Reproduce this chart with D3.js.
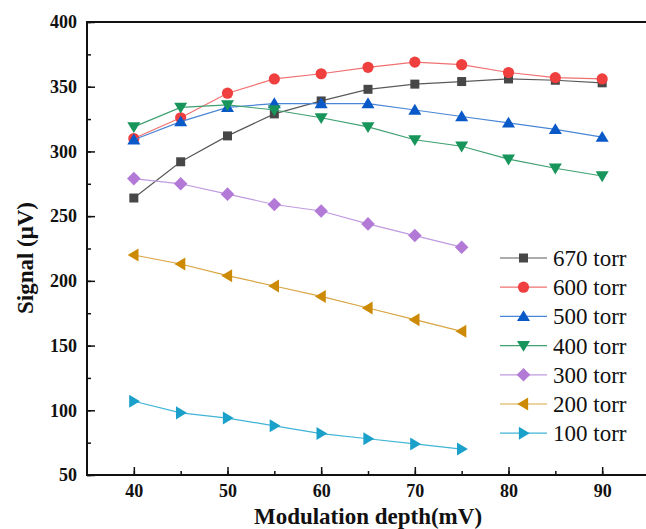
<!DOCTYPE html>
<html>
<head>
<meta charset="utf-8">
<script src="https://cdn.jsdelivr.net/npm/d3@7"></script>
<style>
  html, body { margin: 0; padding: 0; background: #fff; }
  svg { display: block; }
  text { font-family: "Liberation Serif", "Times New Roman", serif; fill: #111; }
</style>
</head>
<body>
<svg id="chart" width="646" height="529"></svg>
<script>
// ---- data ----
const depths = [40, 45, 50, 55, 60, 65, 70, 75, 80, 85, 90];
const seriesNames = ["670 torr", "600 torr", "500 torr", "400 torr", "300 torr", "200 torr", "100 torr"];
const s670 = [264, 292, 312, 329, 339, 348, 352, 354, 356, 355, 353];
const s600 = [310, 326, 345, 356, 360, 365, 369, 367, 361, 357, 356];
const s500 = [309, 323, 334, 337, 337, 337, 332, 327, 322, 317, 311];
const s400 = [319, 334, 336, 332, 326, 319, 309, 304, 294, 287, 281];
const s300 = [279, 275, 267, 259, 254, 244, 235, 226];
const s200 = [220, 213, 204, 196, 188, 179, 170, 161];
const s100 = [107, 98, 94, 88, 82, 78, 74, 70];
const xTicks = [40, 50, 60, 70, 80, 90];
const yTicks = [50, 100, 150, 200, 250, 300, 350, 400];
const xLabel = "Modulation depth(mV)";
const yLabel = "Signal (μV)";

// ---- styles ----
const colors = ["#474747", "#ef3f3f", "#0a59c9", "#17955a", "#b27ad6", "#cc8a06", "#1ba1c9"];
const lineColors = ["#5a5a5a", "#f07070", "#4a86d6", "#3fa070", "#c09ae0", "#d8a540", "#40b4d6"];
const symbols = ["square", "circle", "triUp", "triDown", "diamond", "triLeft", "triRight"];
const allValues = [s670, s600, s500, s400, s300, s200, s100];

const svg = d3.select("#chart");
const m = { left: 87, top: 22, right: 649, bottom: 475 };

const x = d3.scaleLinear().domain([35, 95]).range([m.left, m.right]);
const y = d3.scaleLinear().domain([50, 400]).range([m.bottom, m.top]);

function markerPath(type, s) {
  switch (type) {
    case "square": { const h = s * 0.5; return `M${-h},${-h}H${h}V${h}H${-h}Z`; }
    case "circle": { const r = s * 0.56; return `M${r},0A${r},${r} 0 1,1 ${-r},0A${r},${r} 0 1,1 ${r},0Z`; }
    case "triUp": { const h = s * 0.62; return `M0,${-h}L${h * 1.05},${h * 0.75}L${-h * 1.05},${h * 0.75}Z`; }
    case "triDown": { const h = s * 0.62; return `M0,${h}L${h * 1.05},${-h * 0.75}L${-h * 1.05},${-h * 0.75}Z`; }
    case "triLeft": { const h = s * 0.62; return `M${-h},0L${h * 0.75},${-h * 1.05}L${h * 0.75},${h * 1.05}Z`; }
    case "triRight": { const h = s * 0.62; return `M${h},0L${-h * 0.75},${-h * 1.05}L${-h * 0.75},${h * 1.05}Z`; }
    case "diamond": { const h = s * 0.68; return `M0,${-h}L${h},0L0,${h}L${-h},0Z`; }
  }
}

// ---- axes ----
const minorX = d3.range(40, 95, 5);
const minorY = d3.range(50, 401, 25);

const gx = svg.append("g").attr("transform", `translate(0,${m.bottom})`);
gx.call(d3.axisBottom(x).tickValues(minorX).tickSize(-4).tickFormat(""))
  .call(g => g.select(".domain").remove())
  .call(g => g.selectAll("line").attr("stroke", "#111").attr("stroke-width", 1.5));
const gx2 = svg.append("g").attr("transform", `translate(0,${m.bottom})`);
gx2.call(d3.axisBottom(x).tickValues(xTicks).tickSize(-8).tickPadding(9).tickFormat(d3.format("d")))
  .call(g => g.select(".domain").remove())
  .call(g => g.selectAll("line").attr("stroke", "#111").attr("stroke-width", 1.5))
  .call(g => g.selectAll("text").attr("font-size", 18).attr("font-weight", "bold")
    .attr("font-family", "Liberation Serif").attr("fill", "#111").attr("dy", "0.71em"));

const gy = svg.append("g").attr("transform", `translate(${m.left},0)`);
gy.call(d3.axisLeft(y).tickValues(minorY).tickSize(-4).tickFormat(""))
  .call(g => g.select(".domain").remove())
  .call(g => g.selectAll("line").attr("stroke", "#111").attr("stroke-width", 1.5));
const gy2 = svg.append("g").attr("transform", `translate(${m.left},0)`);
gy2.call(d3.axisLeft(y).tickValues(yTicks).tickSize(-8).tickPadding(10).tickFormat(d3.format("d")))
  .call(g => g.select(".domain").remove())
  .call(g => g.selectAll("line").attr("stroke", "#111").attr("stroke-width", 1.5))
  .call(g => g.selectAll("text").attr("font-size", 18).attr("font-weight", "bold")
    .attr("font-family", "Liberation Serif").attr("fill", "#111"));

// frame
svg.append("rect")
  .attr("x", m.left).attr("y", m.top)
  .attr("width", m.right - m.left).attr("height", m.bottom - m.top)
  .attr("fill", "none").attr("stroke", "#111").attr("stroke-width", 2);

// ---- series ----
const line = d3.line().x(d => x(d[0])).y(d => y(d[1]));
allValues.forEach((vals, i) => {
  const pts = vals.map((v, j) => [depths[j], v]);
  svg.append("path").datum(pts).attr("d", line)
    .attr("fill", "none").attr("stroke", lineColors[i]).attr("stroke-width", 1.2);
  svg.append("g").selectAll("path").data(pts).join("path")
    .attr("transform", d => `translate(${x(d[0])},${y(d[1])})`)
    .attr("d", markerPath(symbols[i], symbols[i] === "square" ? 9 : 10))
    .attr("fill", colors[i]);
});

// ---- legend ----
const legend = svg.append("g");
seriesNames.forEach((name, i) => {
  const cy = 258 + i * 29.2;
  legend.append("line").attr("x1", 500).attr("x2", 547).attr("y1", cy).attr("y2", cy)
    .attr("stroke", lineColors[i]).attr("stroke-width", 1.2);
  legend.append("path").attr("transform", `translate(523.5,${cy})`)
    .attr("d", markerPath(symbols[i], symbols[i] === "square" ? 9 : 10)).attr("fill", colors[i]);
  legend.append("text").attr("x", 553).attr("y", cy).attr("dy", "0.35em")
    .attr("font-size", 23).text(name);
});

// ---- axis titles ----
svg.append("text").attr("x", (m.left + m.right) / 2).attr("y", 524)
  .attr("text-anchor", "middle").attr("font-size", 23).attr("font-weight", "bold").text(xLabel);
svg.append("text").attr("transform", "translate(33,258) rotate(-90)")
  .attr("text-anchor", "middle").attr("font-size", 23).attr("font-weight", "bold").text(yLabel);
</script>
</body>
</html>
